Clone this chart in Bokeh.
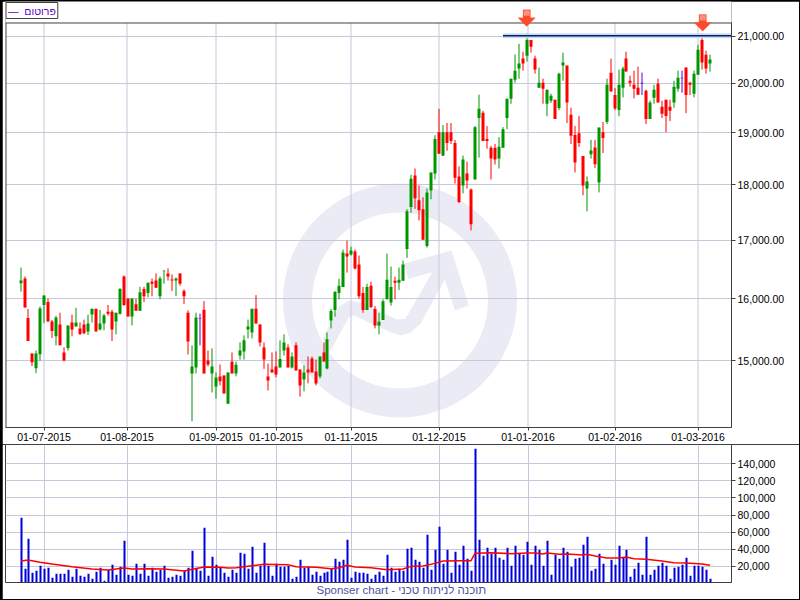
from bokeh.plotting import figure
from bokeh.layouts import column
from bokeh.models import Range1d, FixedTicker, NumeralTickFormatter, Label, PolyAnnotation
from bokeh.embed import file_html
from bokeh.resources import INLINE

# ---------- chart values ----------
highs = [16522,16371,15827,15117,15164,15869,16052,16000,15652,15721,
15768,15212,15562,15737,15848,15610,15657,15737,15832,15832,
15816,15753,15896,15816,15768,16180,16389,16000,16000,16000,
16197,16197,16267,16336,16423,16371,16476,16510,16406,16354,
16423,16157,15806,15244,15768,15753,15959,15164,15196,14823,
14944,14777,14823,15132,14989,15291,15402,15657,15832,16058,
15578,15291,14958,15132,15148,15323,15419,15260,15132,15291,
14868,14929,15069,15069,15021,15069,15291,15450,15830,16126,
16333,16833,16989,16885,16833,16730,16195,16247,16282,15878,
15767,15989,16764,16540,16368,16523,16644,17552,18187,18308,
17988,17770,17933,18233,18950,19476,19150,19190,19190,18855,
18346,18553,18440,17933,19129,19762,19435,19129,18742,18780,
18912,19109,19680,20092,20601,20831,20662,21065,20915,20577,
20324,20092,19864,19782,19660,20218,20641,20366,19497,19129,
19333,18547,18157,18860,18860,19101,19211,20092,20514,19898,
20282,20345,20662,20155,20260,20345,20218,19864,19639,19966,
20092,19639,19660,19660,20049,20260,20260,20324,20028,20260,
20810,21065,20683,20599]
body_tops = [16302,16336,15684,15117,15117,15837,16052,15943,15625,15689,
15578,15132,15562,15610,15610,15514,15578,15594,15832,15832,
15594,15721,15784,15784,15768,16162,16371,16000,16000,15906,
16104,16162,16267,16284,16302,16336,16470,16423,16319,16336,
16423,16128,15768,14914,15689,15684,15816,15005,14914,14746,
14762,14777,14823,14989,14942,15164,15323,15546,15832,15832,
15578,15212,14762,14868,14914,15032,15291,15212,15069,15244,
14868,14823,14868,15037,14838,15069,15132,15339,15798,16109,
16213,16782,16764,16816,16799,16575,16092,16195,16213,15830,
15620,15958,16316,16195,16299,16316,16575,17515,18113,18176,
17715,17552,17860,18233,18874,19007,19007,19007,19007,18799,
18157,18478,18214,17915,19109,19476,19394,18874,18704,18704,
18723,19068,19680,20092,20260,20408,20514,20915,20915,20514,
20007,20007,19864,19741,19660,20197,20430,20366,19354,18956,
18987,18547,18063,18654,18711,19101,19007,19966,20218,19755,
19966,20303,20514,20049,19966,19905,20007,19843,19605,19864,
19986,19517,19660,19517,19925,20113,20113,20324,20007,20197,
20704,20915,20599,20493]
body_bottoms = [16255,15853,15313,14980,14888,15106,15896,15625,15472,15387,
15244,15005,15201,15498,15546,15424,15435,15466,15737,15466,
15498,15594,15753,15498,15625,15753,15896,15705,15705,15800,
15800,16040,16093,16249,16180,16040,16458,16371,16302,16302,
16249,16040,15307,14807,14899,15673,14807,14944,14807,14610,
14686,14503,14351,14807,14807,15085,15148,15498,15450,15594,
15291,15021,14701,14823,14792,14899,15164,14899,14899,14853,
14625,14716,14823,14823,14655,14762,14990,14883,15641,15814,
16092,16195,16713,16747,16506,16040,15814,15814,15862,15562,
15562,15650,15989,15936,16264,16264,16299,16845,17593,17752,
17534,17006,16897,17897,18214,18591,18553,18799,18836,18132,
17685,17988,18082,17279,18101,19292,18836,18836,18497,18478,
18497,18704,19292,19680,20070,20303,20408,20577,20768,20282,
19905,19884,19578,19639,19272,19490,20366,19605,18937,18421,
18799,17988,17933,18579,18390,18044,18893,19211,19830,19483,
19449,19905,20240,20007,19884,19762,19993,19272,19272,19701,
19605,19374,19333,19435,19605,19884,20099,19755,19966,19782,
20176,20430,20303,20408]
lows = [16116,15853,15313,14919,14812,15005,15599,15625,15360,15244,
15244,14995,15164,15387,15546,15408,15419,15408,15610,15466,
15482,15482,15721,15313,15419,15737,15880,15705,15562,15800,
15800,15943,16023,16040,16180,15989,16249,16302,16128,16040,
16215,15912,15101,14092,14807,15244,14807,14914,14518,14427,
14625,14503,14351,14807,14762,15021,15021,15355,15355,15594,
15228,14878,14549,14823,14746,14899,15085,14899,14883,14853,
14458,14534,14655,14823,14625,14731,14990,14868,15514,15703,
15989,16195,16437,16730,16489,16000,15767,15814,15846,15514,
15419,15650,15989,15884,15989,16144,16299,16690,17485,17558,
17351,17006,16868,17733,18101,18591,18553,18648,18780,18025,
17661,17842,17933,17170,18101,18516,18836,18686,18101,18384,
18308,18704,19068,19578,20007,20092,20260,20451,20641,20197,
19905,19578,19327,19592,19272,19449,20049,19191,18780,18233,
18723,17806,17515,18497,18314,17860,18604,19170,19816,19449,
19327,19708,20240,19925,19687,19762,19755,19170,19272,19578,
19605,19292,19007,19231,19497,19823,19803,19388,19755,19708,
20176,20282,20197,20240]
candle_kinds = ("grrrgggrrg" "rrgrgrrggr" "ggrrggrrgr" "grgrrggrrg" "rrrggprrgg"
                "rrgrgggggr" "rrrrrggrgr" "rgrrrgrggg" "ggrgrrrgrr" "ggggrggggr"
                "rrgggrgrrr" "rgrrggrrrr" "ggggggrgrr" "grggrggrrr"
                "rrggrgrgrr" "ggrrrrprgg" "rrrrggprrg" "grrg")

volumes = [76900,16900,52200,12200,14500,20400,16900,18000,6300,11000,
11000,11000,15700,7500,16900,8600,7500,11000,5100,13300,
18000,2700,15700,21600,9800,19200,49800,9800,8600,22700,
11000,22700,8600,18000,13300,15700,20400,6300,7500,9800,
8600,14500,18000,38000,18000,14500,65000,8600,31000,21600,
18000,12200,7500,15700,12200,35700,34500,16900,42700,12200,
20400,47400,20400,
8600,22700,19200,19200,20400,5100,7500,27400,18000,19200,
9800,13300,8600,12200,13300,16900,28600,25100,27400,51000,
6300,13300,12200,12200,11000,5100,9800,13300,8600,33300,
18000,13300,16900,14500,40400,41600,27400,25100,18000,56800,
15700,39200,66300,22700,39200,12200,36800,21600,43900,28600,
14500,158000,51000,32100,41600,34500,41600,29800,27400,41600,
20400,43900,34500,33300,48600,
21600,43900,39200,20400,49800,9800,33300,28600,41600,36800,
19200,28600,29800,45100,54500,14500,16900,34500,22700,0,
27400,21600,43900,29800,39200,7500,16900,23900,9800,54500,
9800,15700,20400,23900,20400,5100,18000,19200,21600,29800,
8600,20400,20400,19200,15700,5100]

vol_avg_candles = [0,2,5,8,13,18,22,26,28,32,36,41,46,50,52,54,58,61,
67,69,74,78,80,82,84,88,92,96,98,101,104,106,110,113,114,118,123,127,
129,131,132,135,137,141,142,144,147,150,152,154,157,161,164,167,171,173]
vol_avg_values = [25900,27000,24300,22300,19200,16500,15300,17600,16500,16900,16500,14100,18800,18400,17600,18000,20400,22000,
21600,19200,18400,16900,18000,20800,18800,18000,15700,16500,19600,20000,23100,25900,26300,26300,34900,35700,34500,35300,
35300,34100,35300,33700,34100,32900,33700,31800,29400,29400,30600,28600,27800,25900,23900,23500,22300,20800]

trend_values = [21005, 21005]

date_labels = ["01-07-2015","01-08-2015","01-09-2015","01-10-2015","01-11-2015",
               "01-12-2015","01-01-2016","01-02-2016","01-03-2016"]
date_slots = [23,106,195,255,330,418,507,594,677]
price_ticks = [15000,16000,17000,18000,19000,20000,21000]
volume_ticks = [20000,40000,60000,80000,100000,120000,140000]
legend_text = "פרוטום"
footer_text = "Sponser chart - תוכנה לניתוח טכני"

assert len(highs)==len(lows)==len(body_tops)==len(body_bottoms)==174
assert len(candle_kinds)==174
assert len(volumes)==174
assert len(vol_avg_candles)==len(vol_avg_values)

# ---------- styles ----------
GREEN, RED, PURPLE = "#009600", "#ff0000", "#5a00c8"
GRID = "#c8c8dc"
FRAME = "#404040"
MARK = "#ebebf5"
KIND = {"g": GREEN, "r": RED, "p": PURPLE}
FONT = "Liberation Sans"
LABEL_SIZE = "10.5px"

# one horizontal data unit is one pixel; candles sit on whole-pixel slots
slots = [4*i - (i+73)//75 for i in range(174)]
colors = [KIND[k] for k in candle_kinds]
FIRST = 20.5
FRAME_LEFT, FRAME_BOTTOM = 5, 427
xr = lambda: Range1d(5-FIRST, 731-FIRST)
# annotation screen units run from the frame's lower left corner
scr_x = lambda xs: [x - FRAME_LEFT for x in xs]
scr_y = lambda ys: [FRAME_BOTTOM - y for y in ys]

PRICE_BOTTOM = 14001   # axis floor
PRICE_BOX_TOP = 21285  # upper edge of the drawn price box
PRICE_CANVAS_TOP = 21764  # the frame runs on up to the canvas top so the markers and legend fit


def style(p, ticks):
    p.background_fill_color = "white"
    p.border_fill_color = "white"
    p.ygrid.ticker = FixedTicker(ticks=ticks)
    p.ygrid.grid_line_color = GRID
    p.ygrid.grid_line_width = 1
    ax = p.yaxis[0]
    ax.ticker = FixedTicker(ticks=ticks)
    ax.minor_tick_line_color = None
    ax.major_tick_in = 0
    ax.major_tick_out = 4
    ax.major_tick_line_color = FRAME
    ax.axis_line_color = FRAME
    ax.major_label_standoff = 2
    ax.major_label_text_font = FONT
    ax.major_label_text_font_size = LABEL_SIZE
    ax.major_label_text_color = "#000000"


# ---------- price panel ----------
p1 = figure(width=797, height=443, output_backend="svg", toolbar_location=None,
            x_range=xr(), y_range=Range1d(PRICE_BOTTOM, PRICE_CANVAS_TOP), y_axis_type="log",
            y_axis_location="right", min_border_left=3, min_border_right=68,
            min_border_top=0, min_border_bottom=17, margin=(1, 1, 0, 2))
style(p1, price_ticks)
p1.outline_line_color = None
p1.xgrid.grid_line_color = None
p1.yaxis[0].formatter = NumeralTickFormatter(format="0,0.00")
p1.yaxis[0].bounds = (PRICE_BOTTOM, PRICE_BOX_TOP)
xa = p1.xaxis[0]
xa.ticker = FixedTicker(ticks=date_slots)
xa.major_label_overrides = dict(zip(date_slots, date_labels))
xa.minor_tick_line_color = None
xa.major_tick_in = 0
xa.major_tick_out = 3
xa.major_tick_line_color = FRAME
xa.axis_line_color = FRAME
xa.major_label_standoff = 2
xa.major_label_text_font = FONT
xa.major_label_text_font_size = LABEL_SIZE
xa.major_label_text_color = "#000000"

# watermark
p1.annulus(x=[379], y=[15970], inner_radius=88, outer_radius=117,
           fill_color=MARK, line_color=None, level="image")
arrow_x = [322.3,338.3,348.3,360,396.7,405,431.7,407.7,403.3,451,468.3,454.3,444.3,420,410,400,390,353.3,348.3,328.3]
arrow_y = [338.3,306,300,301.7,319,318.3,271.7,278.3,263.3,250,305,310,279.3,323.3,332.3,335,331.7,315,316.7,353.3]
p1.add_layout(PolyAnnotation(xs=scr_x(arrow_x), ys=scr_y(arrow_y), xs_units="screen", ys_units="screen",
                             fill_color=MARK, fill_alpha=1, line_color=None, level="image"))

# vertical grid and the box edges, stopping at the box top
p1.segment(x0=date_slots, x1=date_slots, y0=PRICE_BOTTOM, y1=PRICE_BOX_TOP,
           line_color=GRID, line_width=1, level="underlay")
p1.segment(x0=[-15, -15.5], x1=[-15, 711], y0=[PRICE_BOTTOM, PRICE_BOX_TOP], y1=[PRICE_BOX_TOP, PRICE_BOX_TOP],
           line_color=FRAME, line_width=1)

# candles
p1.segment(x0=slots, x1=slots, y0=lows, y1=highs, line_color=colors, line_width=1)
p1.vbar(x=slots, width=3, top=body_tops, bottom=body_bottoms, fill_color=colors, line_color=None)

# trend line
tx = [slots[121], 712]
p1.line(tx, trend_values, line_color="#c8dcf5", line_width=5)
p1.line(tx, trend_values, line_color="#002060", line_width=1.5)

# red markers
for cx, top in ((526.2, 9.3), (702.2, 14.0)):
    sx = [cx-3.7, cx+3.7, cx+3.7, cx+8.7, cx, cx-8.7, cx-3.7]
    sy = [top, top, top+8, top+8, top+16.7, top+8, top+8]
    p1.add_layout(PolyAnnotation(xs=scr_x(sx), ys=scr_y(sy), xs_units="screen", ys_units="screen",
                                 fill_color="#ff4a2a", fill_alpha=1, line_color="#f06040",
                                 line_width=1, level="overlay"))
    p1.add_layout(PolyAnnotation(xs=scr_x([cx-3, cx+3, cx+3, cx-3]), ys=scr_y([top+0.7, top+0.7, top+6, top+6]),
                                 xs_units="screen", ys_units="screen",
                                 fill_color="#ff9080", fill_alpha=1, line_color=None, level="overlay"))

# legend: the left-to-right mark keeps the dash on the left of the Hebrew word
p1.add_layout(Label(x=0.5, y=FRAME_BOTTOM-18, x_units="screen", y_units="screen",
                    text="\u200e—\u00a0 " + legend_text, text_font=FONT, text_font_size="10.5px",
                    text_color="#6000c8", border_line_color=FRAME, border_line_width=1,
                    background_fill_color="white", padding=2))

# ---------- volume panel ----------
p2 = figure(width=797, height=155, output_backend="svg", toolbar_location=None,
            x_range=xr(), y_range=Range1d(590, 162940),
            y_axis_location="right", min_border_left=3, min_border_right=68,
            min_border_top=0, min_border_bottom=17, margin=(0, 1, 1, 2))
style(p2, volume_ticks)
p2.outline_line_color = FRAME
p2.outline_line_width = 1
p2.xgrid.ticker = FixedTicker(ticks=date_slots)
p2.xgrid.grid_line_color = GRID
p2.xgrid.grid_line_width = 1
p2.yaxis[0].formatter = NumeralTickFormatter(format="0,0")
p2.xaxis.visible = False
p2.vbar(x=[s + 0.5 for s in slots], width=2, top=volumes, bottom=0,
        fill_color="#0000d8", line_color=None)
p2.line([slots[i] for i in vol_avg_candles], vol_avg_values, line_color="#ff0000", line_width=1.5)
p2.add_layout(Label(x=311, y=-1, x_units="screen", y_units="screen", text=footer_text,
                    text_font=FONT, text_font_size="11.5px", text_color="#5050a0"), "below")

page = column(p1, p2, spacing=0, styles={"background-color": "#000000"})

open("out.html", "w").write(file_html(page, INLINE))
